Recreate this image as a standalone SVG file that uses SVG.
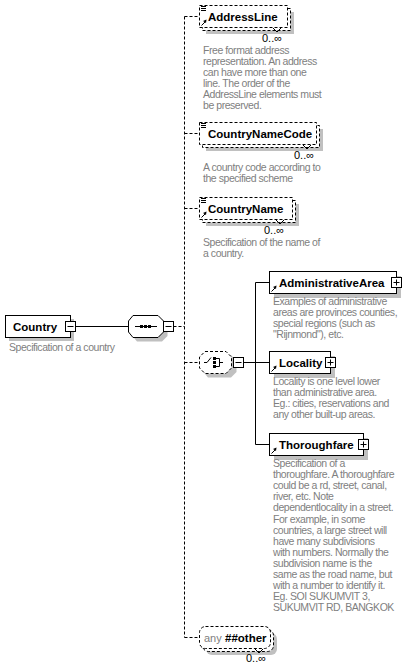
<svg xmlns="http://www.w3.org/2000/svg" width="417" height="669" viewBox="0 0 417 669">
<style>
.bg{fill:#fff}
.box{fill:#fff;stroke:#000;stroke-width:1}
.dbox{fill:#fff;stroke:#000;stroke-width:1;stroke-dasharray:3,2}
.sh{fill:#c0c0c0}
.ln{stroke:#000;stroke-width:1;fill:none}
.dl{stroke:#000;stroke-width:1;fill:none;stroke-dasharray:3,2}
.t{font-family:"Liberation Sans",Arial,sans-serif;font-weight:bold;font-size:11.5px;fill:#000}
.d{font-family:"Liberation Sans",Arial,sans-serif;font-size:10.5px;letter-spacing:-0.45px;fill:#808080}
.o{font-family:"Liberation Sans",Arial,sans-serif;font-size:11px;fill:#000}
.a{font-family:"Liberation Sans",Arial,sans-serif;font-size:11px;fill:#808080}
</style>
<defs>
<g id="doc"><path class="ln" d="M0,0.5h5M0,2.5h5M0,4.5h5"/></g>
<g id="ref"><path class="ln" d="M0.5,5.5L4,2"/><polygon points="2,1 5.5,-0.5 5,3" fill="#000"/></g>
<g id="minus"><rect class="box" x="0" y="0" width="10" height="10"/><path class="ln" d="M2,5h6"/></g>
<g id="plus"><rect class="box" x="0" y="0" width="10" height="10"/><path class="ln" d="M2,5h6M5,2v6"/></g>
<path id="notch" class="ln" d="M-4,0L0,4L4,0" fill="#fff"/>
</defs>
<rect class="bg" x="0" y="0" width="417" height="669"/>

<g id="connectors">
<path class="ln" d="M75.5,326.5H128.5"/>
<path class="dl" d="M173.5,326.5H184.5"/>
<path class="dl" d="M184.5,16.5V637.5"/>
<path class="dl" d="M184.5,16.5H199.5M184.5,133.5H199.5M184.5,208.5H199.5M184.5,362.5H199.5M184.5,637.5H199.5"/>
<path class="ln" d="M243.5,362.5H255.5"/>
<path class="ln" d="M255.5,282.5V444.5"/>
<path class="ln" d="M255.5,282.5H269.5M255.5,362.5H269.5M255.5,444.5H269.5"/>
</g>

<g id="node-country">
<rect class="sh" x="9" y="319" width="65" height="22"/>
<rect class="box" x="5.5" y="315.5" width="65" height="22"/>
<text class="t" x="13" y="331">Country</text>
<use href="#minus" x="65.5" y="321.5"/>
<text class="d" x="9" y="351">Specification of a country</text>
</g>

<g id="node-sequence">
<polygon class="sh" points="137,319 162,319 167.5,325 167.5,336 162,341.5 137,341.5 132.5,336 132.5,325"/>
<polygon class="box" points="133,315.5 158,315.5 163.5,321 163.5,332 158,337.5 133,337.5 128.5,332 128.5,321"/>
<path class="ln" d="M135,326.5H157"/>
<rect x="140" y="325" width="3" height="3" fill="#000"/>
<rect x="144" y="325" width="3" height="3" fill="#000"/>
<rect x="148" y="325" width="3" height="3" fill="#000"/>
<use href="#minus" x="163.5" y="321.5"/>
</g>

<g id="node-choice">
<polygon class="sh" points="208,355 231,355 236.5,361 236.5,372 231,377.5 208,377.5 203.5,372 203.5,361"/>
<polygon class="dbox" points="205,351.5 226,351.5 231.5,357 231.5,368 226,373.5 205,373.5 199.5,368 199.5,357"/>
<path class="ln" d="M204,362.5H207L211,357.5"/>
<rect x="213" y="357" width="3" height="3" fill="#000"/>
<rect x="213" y="361" width="3" height="3" fill="#000"/>
<rect x="213" y="365" width="3" height="3" fill="#000"/>
<path class="ln" d="M216,358.5H219.5V366.5H216M219.5,362.5H223"/>
<use href="#minus" x="233.5" y="357.5"/>
</g>

<g id="node-addressline">
<rect class="sh" x="206" y="12" width="88" height="22"/>
<rect class="dbox" x="202.5" y="8.5" width="88" height="22"/>
<rect class="dbox" x="199.5" y="5.5" width="88" height="22"/>
<use href="#notch" x="277" y="28"/>
<use href="#doc" x="201" y="6"/>
<use href="#ref" x="201" y="20"/>
<text class="t" x="208" y="21">AddressLine</text>
<text class="o" x="262" y="42">0..∞</text>
<text class="d"><tspan x="203" y="54">Free format address</tspan><tspan x="203" y="65">representation. An address</tspan><tspan x="203" y="76">can have more than one</tspan><tspan x="203" y="87">line. The order of the</tspan><tspan x="203" y="98">AddressLine elements must</tspan><tspan x="203" y="109">be preserved.</tspan></text>
</g>

<g id="node-countrynamecode">
<rect class="sh" x="206" y="129" width="117" height="22"/>
<rect class="dbox" x="202.5" y="125.5" width="117" height="22"/>
<rect class="dbox" x="199.5" y="122.5" width="117" height="22"/>
<use href="#notch" x="307" y="145"/>
<use href="#doc" x="201" y="123"/>
<text class="t" x="208" y="138">CountryNameCode</text>
<text class="o" x="294" y="159">0..∞</text>
<text class="d"><tspan x="203" y="171">A country code according to</tspan><tspan x="203" y="182">the specified scheme</tspan></text>
</g>

<g id="node-countryname">
<rect class="sh" x="206" y="204" width="93" height="22"/>
<rect class="dbox" x="202.5" y="200.5" width="93" height="22"/>
<rect class="dbox" x="199.5" y="197.5" width="93" height="22"/>
<use href="#notch" x="280" y="220"/>
<use href="#doc" x="201" y="198"/>
<use href="#ref" x="201" y="212"/>
<text class="t" x="208" y="213">CountryName</text>
<text class="o" x="264" y="234">0..∞</text>
<text class="d"><tspan x="203" y="246">Specification of the name of</tspan><tspan x="203" y="257">a country.</tspan></text>
</g>

<g id="node-administrativearea">
<rect class="sh" x="274" y="276" width="127" height="22"/>
<rect class="box" x="269.5" y="271.5" width="127" height="22"/>
<use href="#ref" x="271" y="286"/>
<text class="t" x="279" y="287">AdministrativeArea</text>
<use href="#plus" x="391.5" y="277.5"/>
<text class="d"><tspan x="273" y="305">Examples of administrative</tspan><tspan x="273" y="316">areas are provinces counties,</tspan><tspan x="273" y="327">special regions (such as</tspan><tspan x="273" y="338">"Rijnmond"), etc.</tspan></text>
</g>

<g id="node-locality">
<rect class="sh" x="274" y="356" width="61" height="22"/>
<rect class="box" x="269.5" y="351.5" width="61" height="22"/>
<use href="#ref" x="271" y="366"/>
<text class="t" x="279" y="367">Locality</text>
<use href="#plus" x="325.5" y="357.5"/>
<text class="d"><tspan x="273" y="385">Locality is one level lower</tspan><tspan x="273" y="396">than administrative area.</tspan><tspan x="273" y="407">Eg.: cities, reservations and</tspan><tspan x="273" y="418">any other built-up areas.</tspan></text>
</g>

<g id="node-thoroughfare">
<rect class="sh" x="274" y="438" width="94" height="22"/>
<rect class="box" x="269.5" y="433.5" width="94" height="22"/>
<use href="#ref" x="271" y="448"/>
<text class="t" x="279" y="449">Thoroughfare</text>
<use href="#plus" x="358.5" y="439.5"/>
<text class="d"><tspan x="273" y="467">Specification of a</tspan><tspan x="273" y="478.1">thoroughfare. A thoroughfare</tspan><tspan x="273" y="489.2">could be a rd, street, canal,</tspan><tspan x="273" y="500.3">river, etc.  Note</tspan><tspan x="273" y="511.4">dependentlocality in a street.</tspan><tspan x="273" y="522.5">For example, in some</tspan><tspan x="273" y="533.6">countries, a large street will</tspan><tspan x="273" y="544.7">have many subdivisions</tspan><tspan x="273" y="555.8">with numbers. Normally the</tspan><tspan x="273" y="566.9">subdivision name is the</tspan><tspan x="273" y="578">same as the road name, but</tspan><tspan x="273" y="589.1">with a number to identify it.</tspan><tspan x="273" y="600.2">Eg. SOI SUKUMVIT 3,</tspan><tspan x="273" y="611.3">SUKUMVIT RD, BANGKOK</tspan></text>
</g>

<g id="node-any">
<rect class="sh" x="206" y="633" width="71" height="22" rx="6"/>
<rect class="dbox" x="202.5" y="629.5" width="71" height="22" rx="6"/>
<rect class="dbox" x="199.5" y="626.5" width="71" height="22" rx="6"/>
<use href="#notch" x="259" y="649"/>
<text class="a" x="204" y="642">any</text>
<text class="t" x="225" y="642">##other</text>
<text class="o" x="246" y="662">0..∞</text>
</g>
</svg>
